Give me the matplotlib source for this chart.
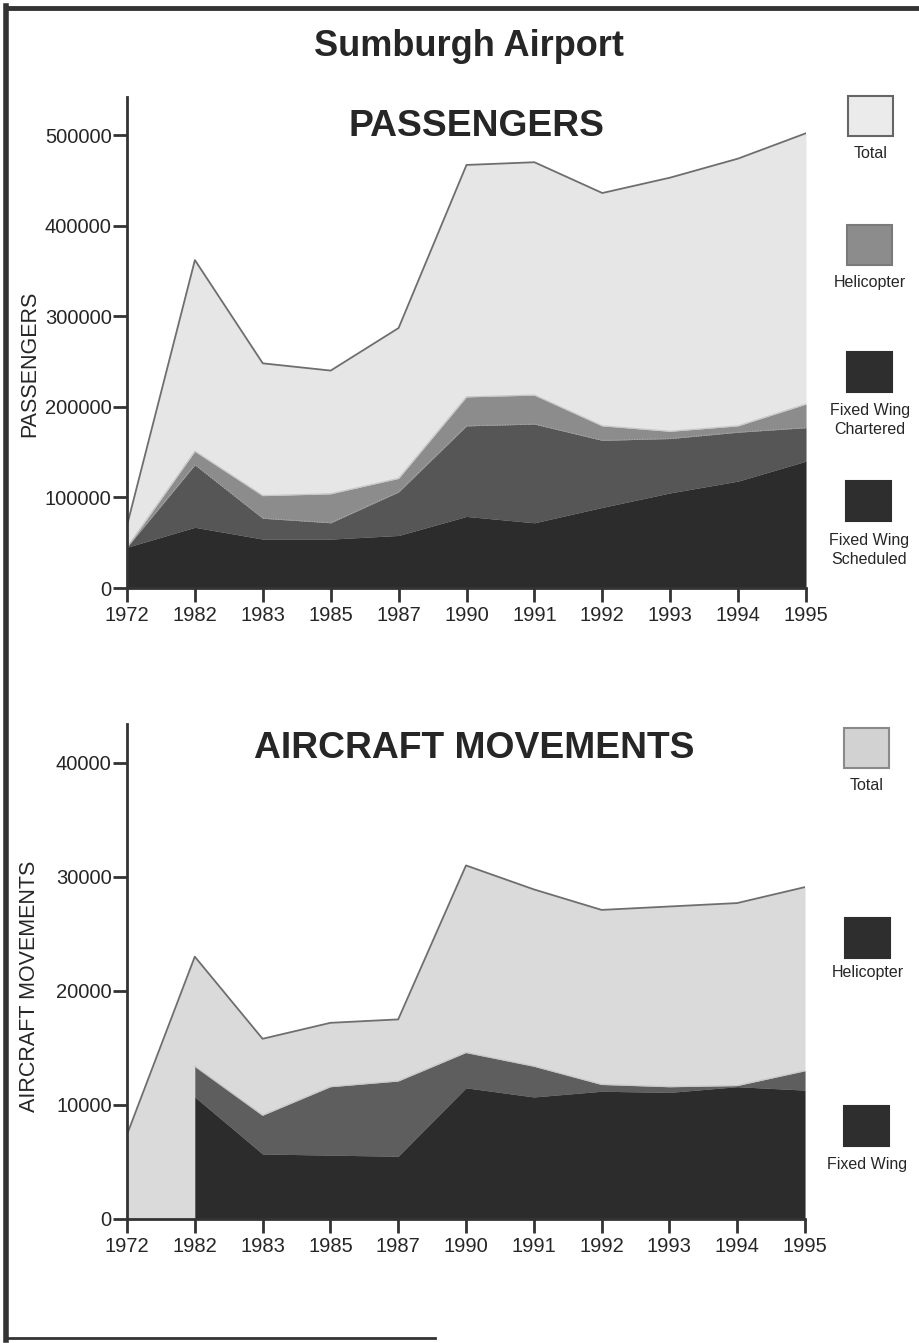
import numpy as np
import matplotlib.pyplot as plt
from matplotlib.patches import Rectangle
from matplotlib.lines import Line2D

plt.rcParams['font.family'] = ['Liberation Sans', 'DejaVu Sans']

years = ['1972', '1982', '1983', '1985', '1987', '1990', '1991', '1992', '1993', '1994', '1995']

# passengers
pax_total = [69000, 362000, 248000, 240000, 287000, 467000, 470000, 436000, 453000, 474000, 502000]
pax_scheduled = [45000, 67000, 54000, 54000, 58000, 79000, 72000, 89000, 105000, 118000, 140000]
pax_chartered = [0, 69000, 23000, 18000, 48000, 100000, 109000, 74000, 60000, 54000, 37000]
pax_heli = [0, 15000, 25000, 32000, 15000, 32000, 32000, 16000, 8000, 7000, 26000]

# aircraft movements
mov_total = [7400, 23000, 15800, 17200, 17500, 31000, 28900, 27100, 27400, 27700, 29100]
mov_fixed = [np.nan, 10700, 5700, 5600, 5500, 11500, 10700, 11200, 11100, 11600, 11300]
mov_heli = [np.nan, 2700, 3400, 6000, 6600, 3100, 2700, 600, 500, 100, 1700]

W, H = 920, 1343
txt = '#262626'


def fx(px):
    return px / W


def fy(py):
    return 1 - py / H


fig = plt.figure(figsize=(9.2, 13.43), dpi=100)


def style_axes(ax, ymax, yticks):
    ax.set_xlim(0, len(years) - 1)
    ax.set_ylim(0, ymax)
    ax.set_xticks(range(len(years)))
    ax.set_xticklabels(years)
    ax.set_yticks(yticks)
    ax.set_yticklabels([str(v) for v in yticks])
    for s in ['top', 'right']:
        ax.spines[s].set_visible(False)
    for s in ['left', 'bottom']:
        ax.spines[s].set_color('#333333')
        ax.spines[s].set_linewidth(2)
    ax.tick_params(direction='out', length=10, width=2, color='#333333',
                   labelsize=14.5, labelcolor=txt)
    ax.tick_params(axis='y', pad=1)
    ax.tick_params(axis='x', pad=3)
    ax.set_facecolor('none')


# ---- passengers ----
ax1 = fig.add_axes([fx(127), fy(588), fx(679), 491 / H])
x = np.arange(len(years))
sched = np.array(pax_scheduled)
chart_top = sched + np.array(pax_chartered)
heli_top = chart_top + np.array(pax_heli)
ax1.fill_between(x, 0, pax_total, color='#e6e6e6', lw=0)
ax1.plot(x, pax_total, color='#6e6e6e', lw=1.3)
ax1.fill_between(x, chart_top, heli_top, color='#8c8c8c', lw=0)
ax1.fill_between(x, sched, chart_top, color='#565656', lw=0)
ax1.fill_between(x, 0, sched, color='#2c2c2c', lw=0)
ax1.plot(x, heli_top, color='#c8c8c8', lw=0.9)
ax1.plot(x, chart_top, color='#b0b0b0', lw=0.7, ls=':')
style_axes(ax1, 542000, [0, 100000, 200000, 300000, 400000, 500000])

# ---- aircraft movements ----
ax2 = fig.add_axes([fx(127), fy(1219), fx(678), 495 / H])
fixed = np.array(mov_fixed)
heli_m = fixed + np.array(mov_heli)
ax2.fill_between(x, 0, mov_total, color='#dadada', lw=0)
ax2.plot(x, mov_total, color='#6e6e6e', lw=1.3)
ax2.fill_between(x, fixed, heli_m, color='#5e5e5e', lw=0)
ax2.fill_between(x, 0, fixed, color='#2c2c2c', lw=0)
ax2.plot(x, heli_m, color='#c8c8c8', lw=0.9)
style_axes(ax2, 43400, [0, 10000, 20000, 30000, 40000])

# ---- texts ----
fig.text(fx(469), fy(47), 'Sumburgh Airport', ha='center', va='center',
         fontsize=26, fontweight='bold', color=txt)
fig.text(fx(477), fy(126), 'PASSENGERS', ha='center', va='center',
         fontsize=26.8, fontweight='bold', color=txt)
fig.text(fx(474), fy(748), 'AIRCRAFT MOVEMENTS', ha='center', va='center',
         fontsize=26.8, fontweight='bold', color=txt)
fig.text(fx(30), fy(364), 'PASSENGERS', rotation=90, ha='center', va='center',
         fontsize=15.5, color=txt)
fig.text(fx(30), fy(986), 'AIRCRAFT MOVEMENTS', rotation=90, ha='center', va='center',
         fontsize=15.5, color=txt)

# ---- legends ----
def legend_item(x0, y0, face, edge, lines, label_y):
    fig.add_artist(Rectangle((fx(x0), fy(y0 + 40)), 45 / W, 40 / H,
                             transform=fig.transFigure, facecolor=face,
                             edgecolor=edge, lw=1.5))
    for ln, ly in zip(lines, label_y):
        fig.text(fx(x0 + 23), fy(ly), ln, ha='center', va='center',
                 fontsize=11.5, color=txt)


legend_item(848, 96, '#ebebeb', '#666666', ['Total'], [153])
legend_item(847, 225, '#8c8c8c', '#7a7a7a', ['Helicopter'], [282])
legend_item(847, 352, '#2e2e2e', '#2e2e2e', ['Fixed Wing', 'Chartered'], [411, 430])
legend_item(846, 481, '#2e2e2e', '#2e2e2e', ['Fixed Wing', 'Scheduled'], [540, 559])

legend_item(844, 728, '#d2d2d2', '#8a8a8a', ['Total'], [785])
legend_item(845, 918, '#2e2e2e', '#2e2e2e', ['Helicopter'], [972])
legend_item(844, 1106, '#2e2e2e', '#2e2e2e', ['Fixed Wing'], [1164])

# ---- page frame ----
frame = '#333333'
fig.add_artist(Line2D([fx(6), fx(6)], [fy(6), fy(1340)], color=frame, lw=4,
                      transform=fig.transFigure))
fig.add_artist(Line2D([fx(6), fx(918)], [fy(8), fy(8)], color=frame, lw=3.5,
                      transform=fig.transFigure))
fig.add_artist(Line2D([fx(6), fx(435)], [fy(1338), fy(1338)], color=frame, lw=2,
                      transform=fig.transFigure))

fig.savefig('out.png', dpi=100, facecolor='white')
